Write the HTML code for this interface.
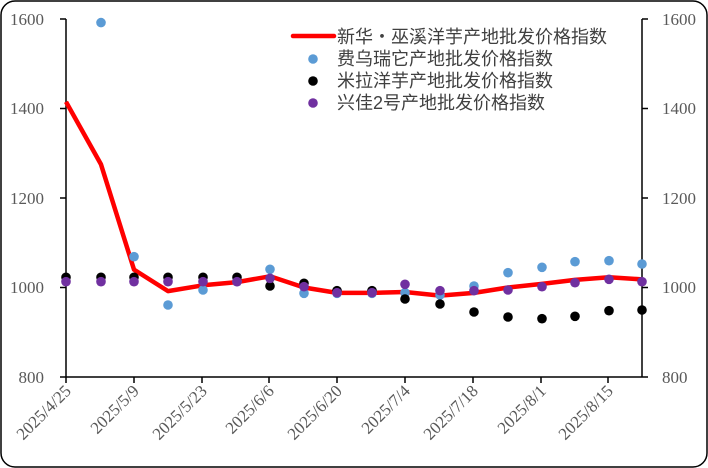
<!DOCTYPE html>
<html><head><meta charset="utf-8"><style>
html,body{margin:0;padding:0;background:#fff;}
svg{display:block;}
.t{font-family:"Liberation Serif","DejaVu Serif",serif;font-size:17px;fill:#595959;}
.l{font-family:"Liberation Sans","Noto Sans CJK SC",sans-serif;font-size:18px;fill:#404040;}
</style></head><body>
<svg width="708" height="468" viewBox="0 0 708 468" xmlns="http://www.w3.org/2000/svg">
<rect x="1" y="1" width="706" height="466" rx="14" fill="#fff" stroke="#000" stroke-width="1.5"/>
<g stroke="#000" stroke-width="1.5" fill="none">
<line x1="66" y1="19" x2="66" y2="377"/>
<line x1="642" y1="19" x2="642" y2="377"/>
<line x1="66" y1="377" x2="642" y2="377"/>
<path d="M60,19H66M60,108.5H66M60,198H66M60,287.5H66M60,377H66M642,19H648M642,108.5H648M642,198H648M642,287.5H648M642,377H648"/>
<path d="M66,377v6M134,377v6M202,377v6M269,377v6M337,377v6M405,377v6M473,377v6M541,377v6M608,377v6"/>
</g>
<g class="t" font-family="Liberation Serif, serif" text-anchor="end">
<text x="44" y="25">1600</text><text x="44" y="114">1400</text><text x="44" y="204">1200</text><text x="44" y="293">1000</text><text x="44" y="383">800</text>
</g>
<g class="t" font-family="Liberation Serif, serif">
<text x="662" y="25">1600</text><text x="662" y="114">1400</text><text x="662" y="204">1200</text><text x="662" y="293">1000</text><text x="662" y="383">800</text>
</g>
<g class="t" font-family="Liberation Serif, serif" text-anchor="end">
<text transform="translate(72,392) rotate(-45)">2025/4/25</text>
<text transform="translate(140,392) rotate(-45)">2025/5/9</text>
<text transform="translate(208,392) rotate(-45)">2025/5/23</text>
<text transform="translate(275,392) rotate(-45)">2025/6/6</text>
<text transform="translate(343,392) rotate(-45)">2025/6/20</text>
<text transform="translate(411,392) rotate(-45)">2025/7/4</text>
<text transform="translate(479,392) rotate(-45)">2025/7/18</text>
<text transform="translate(547,392) rotate(-45)">2025/8/1</text>
<text transform="translate(614,392) rotate(-45)">2025/8/15</text>
</g>
<polyline fill="none" stroke="#f00" stroke-width="4.5" stroke-linejoin="round" points="66,101.8 101,164.4 134,269.6 168,291.1 203,285.3 237,282.1 270,276.3 304,287.5 337,292.9 372,292.9 405,292 440,295.6 474,292.9 508,287.5 542,283.9 575,279.9 609,277.2 642,279.4"/>
<g fill="#5b9bd5">
<circle cx="101" cy="22.6" r="4.8"/><circle cx="134" cy="256.7" r="4.8"/><circle cx="168" cy="305" r="4.8"/><circle cx="203" cy="290" r="4.8"/><circle cx="237" cy="281.7" r="4.8"/><circle cx="270" cy="269.3" r="4.8"/><circle cx="304" cy="293.3" r="4.8"/><circle cx="337" cy="293.3" r="4.8"/><circle cx="372" cy="293.3" r="4.8"/><circle cx="405" cy="292.7" r="4.8"/><circle cx="440" cy="295" r="4.8"/><circle cx="474" cy="286" r="4.8"/><circle cx="508" cy="272.7" r="4.8"/><circle cx="542" cy="267.3" r="4.8"/><circle cx="575" cy="261.7" r="4.8"/><circle cx="609" cy="260.7" r="4.8"/><circle cx="642" cy="264" r="4.8"/>
</g>
<g fill="#000">
<circle cx="66" cy="277.3" r="4.8"/><circle cx="101" cy="277.3" r="4.8"/><circle cx="134" cy="277.3" r="4.8"/><circle cx="168" cy="277.3" r="4.8"/><circle cx="203" cy="277.3" r="4.8"/><circle cx="237" cy="277.3" r="4.8"/><circle cx="270" cy="286" r="4.8"/><circle cx="304" cy="283.3" r="4.8"/><circle cx="337" cy="290.7" r="4.8"/><circle cx="372" cy="290.7" r="4.8"/><circle cx="405" cy="299" r="4.8"/><circle cx="440" cy="304" r="4.8"/><circle cx="474" cy="312" r="4.8"/><circle cx="508" cy="317" r="4.8"/><circle cx="542" cy="318.7" r="4.8"/><circle cx="575" cy="316.3" r="4.8"/><circle cx="609" cy="310.7" r="4.8"/><circle cx="642" cy="310" r="4.8"/>
</g>
<g fill="#7030a0">
<circle cx="66" cy="281.7" r="4.8"/><circle cx="101" cy="281.7" r="4.8"/><circle cx="134" cy="281.7" r="4.8"/><circle cx="168" cy="281.7" r="4.8"/><circle cx="203" cy="281.7" r="4.8"/><circle cx="237" cy="281.7" r="4.8"/><circle cx="270" cy="278.3" r="4.8"/><circle cx="304" cy="286.7" r="4.8"/><circle cx="337" cy="292.7" r="4.8"/><circle cx="372" cy="292.7" r="4.8"/><circle cx="405" cy="284.3" r="4.8"/><circle cx="440" cy="290.7" r="4.8"/><circle cx="474" cy="290.7" r="4.8"/><circle cx="508" cy="290" r="4.8"/><circle cx="542" cy="286.7" r="4.8"/><circle cx="575" cy="282.7" r="4.8"/><circle cx="609" cy="279.3" r="4.8"/><circle cx="642" cy="281.7" r="4.8"/>
</g>
<line x1="293" y1="36" x2="334" y2="36" stroke="#f00" stroke-width="4.5" stroke-linecap="round"/>
<circle cx="313" cy="59" r="4.8" fill="#5b9bd5"/>
<circle cx="313" cy="81" r="4.8" fill="#000"/>
<circle cx="313" cy="103" r="4.8" fill="#7030a0"/>
<g class="l">
<text x="337" y="43">新华・巫溪洋芋产地批发价格指数</text>
<text x="337" y="65">费乌瑞它产地批发价格指数</text>
<text x="337" y="87">米拉洋芋产地批发价格指数</text>
<text x="337" y="109">兴佳2号产地批发价格指数</text>
</g>
</svg>
</body></html>
